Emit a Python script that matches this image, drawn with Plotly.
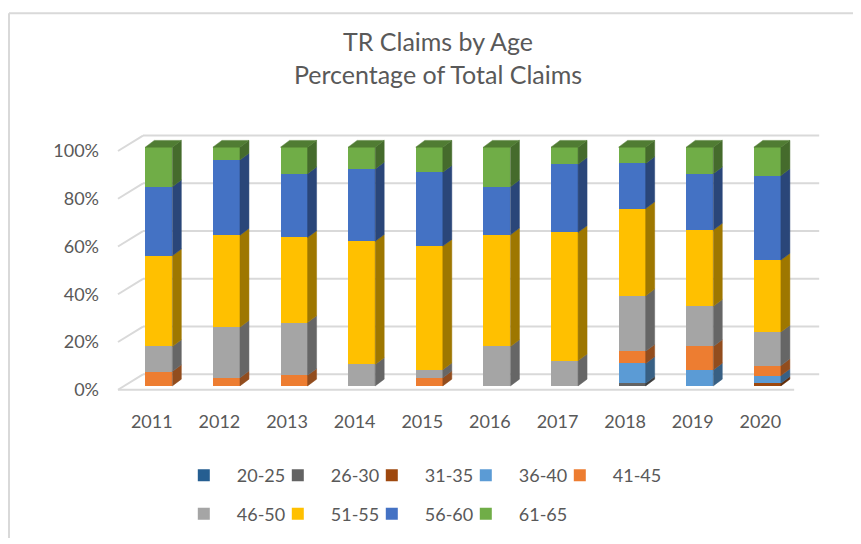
import plotly.graph_objects as go
import numpy as np

# ---------------- data ----------------
years = ["2011", "2012", "2013", "2014", "2015", "2016", "2017", "2018", "2019", "2020"]
age_groups = ["20-25", "26-30", "31-35", "36-40", "41-45", "46-50", "51-55", "56-60", "61-65"]

age_20_25 = [0, 0, 0, 0, 0, 0, 0, 0, 0, 0]
age_26_30 = [0, 0, 0, 0, 0, 0, 0, 1.1, 0, 0]
age_31_35 = [0, 0, 0, 0, 0, 0, 0, 0, 0, 1.1]
age_36_40 = [0, 0, 0, 0, 0, 0, 0, 8.3, 6.7, 3.2]
age_41_45 = [6.0, 3.4, 4.4, 0, 3.4, 0, 0, 5.1, 9.8, 4.2]
age_46_50 = [10.5, 21.2, 22.1, 9.0, 3.4, 16.5, 10.5, 23.2, 16.8, 14.1]
age_51_55 = [38.0, 38.5, 35.6, 51.5, 51.8, 46.7, 53.8, 36.5, 31.9, 30.1]
age_56_60 = [28.9, 31.5, 26.7, 30.3, 31.0, 20.1, 28.5, 18.9, 23.6, 35.4]
age_61_65 = [16.6, 5.4, 11.1, 9.1, 10.5, 16.6, 7.2, 6.8, 11.1, 11.9]

series = [age_20_25, age_26_30, age_31_35, age_36_40, age_41_45,
          age_46_50, age_51_55, age_56_60, age_61_65]

colors = ["#255E91", "#636363", "#9E480E", "#5B9BD5", "#ED7D31",
          "#A5A5A5", "#FFC000", "#4472C4", "#70AD47"]

y_ticks = [0, 20, 40, 60, 80, 100]
y_tick_text = ["0%", "20%", "40%", "60%", "80%", "100%"]

# ---------------- styling constants ----------------
FONT = "Lato, 'Open Sans', sans-serif"
TXT = "#595959"
GRID = "#D9D9D9"
BAR_SHIFT = 0.104   # bar front set back from the floor front
BAR_W = 0.40
DX, DY = 0.133, 2.82          # bar depth projection
WALL_DX, WALL_DY = 0.37, 4.84  # back wall offset from bar plane
FLOOR_DY = -1.61               # floor front offset from bar plane

# the page body adds a margin, so the figure is sized to fit the window
FIG_W, FIG_H = 853, 536
PLOT_L, PLOT_R = 92, 822
PLOT_TOP, PLOT_BOT = 117, 412
PLOT_W = PLOT_R - PLOT_L
PLOT_H = PLOT_BOT - PLOT_TOP


def py(px):
    """figure pixel row -> paper y"""
    return (PLOT_BOT - px) / PLOT_H


def pxx(px):
    """figure pixel column -> paper x"""
    return (px - PLOT_L) / PLOT_W


def shade(hex_color, f):
    h = hex_color.lstrip("#")
    r, g, b = (int(h[i:i + 2], 16) for i in (0, 2, 4))
    return "rgb(%d,%d,%d)" % (r * f, g * f, b * f)


vals = np.array(series, dtype=float)
pct = vals / vals.sum(axis=0) * 100
cum_top = np.cumsum(pct, axis=0)
cum_bot = cum_top - pct
idx = list(range(len(years)))
bx = [i + BAR_SHIFT for i in idx]

fig = go.Figure()

# front faces
for k, name in enumerate(age_groups):
    lg = "legend" if k < 5 else "legend2"
    fig.add_trace(go.Bar(
        x=bx, y=series[k], width=BAR_W, name=name,
        marker=dict(color=colors[k], line=dict(width=0)),
        legend=lg, hoverinfo="name+y",
    ))
    if k in (4, 8):
        # invisible spacer entry so the last legend label is not clipped
        fig.add_trace(go.Scatter(x=[None], y=[None], name=" ", mode="markers", legend=lg,
                                 marker=dict(color="rgba(0,0,0,0)", size=1), hoverinfo="skip"))

# side faces
for k in range(len(age_groups)):
    xs, ys = [], []
    for i in idx:
        if pct[k, i] <= 0:
            continue
        xr = bx[i] + BAR_W / 2
        y0, y1 = cum_bot[k, i], cum_top[k, i]
        xs += [xr, xr, xr + DX, xr + DX, xr, None]
        ys += [y0, y1, y1 + DY, y0 + DY, y0, None]
    if xs:
        fig.add_trace(go.Scatter(
            x=xs, y=ys, mode="lines", fill="toself",
            fillcolor=shade(colors[k], 0.62), line=dict(width=0.5, color=shade(colors[k], 0.62)),
            showlegend=False, hoverinfo="skip"))

# top faces
top_groups = {}
for i in idx:
    k_top = max(k for k in range(len(age_groups)) if pct[k, i] > 0)
    xl, xr = bx[i] - BAR_W / 2, bx[i] + BAR_W / 2
    yt = cum_top[k_top, i]
    xs, ys = top_groups.setdefault(k_top, ([], []))
    xs += [xl, xr, xr + DX, xl + DX, xl, None]
    ys += [yt, yt, yt + DY, yt + DY, yt, None]
for k_top, (xs, ys) in top_groups.items():
    fig.add_trace(go.Scatter(
        x=xs, y=ys, mode="lines", fill="toself",
        fillcolor=shade(colors[k_top], 0.72), line=dict(width=0.5, color=shade(colors[k_top], 0.72)),
        showlegend=False, hoverinfo="skip"))

# back wall gridlines + left wall diagonals + floor front edge
n = len(years)
x_front_l, x_front_r = -0.5, n - 0.5
shapes = []
for v in y_ticks:
    shapes.append(dict(type="line", xref="x", yref="y", layer="below",
                       x0=x_front_l + WALL_DX, x1=x_front_r + WALL_DX,
                       y0=v + WALL_DY, y1=v + WALL_DY, line=dict(color=GRID, width=2)))
    shapes.append(dict(type="line", xref="x", yref="y", layer="below",
                       x0=x_front_l, x1=x_front_l + WALL_DX,
                       y0=v + FLOOR_DY, y1=v + WALL_DY, line=dict(color=GRID, width=2)))
shapes.append(dict(type="line", xref="x", yref="y", layer="below",
                   x0=x_front_l, x1=x_front_r, y0=FLOOR_DY, y1=FLOOR_DY,
                   line=dict(color=GRID, width=2)))
# chart border (top & left edges visible)
shapes.append(dict(type="line", xref="paper", yref="paper", x0=pxx(1), x1=pxx(FIG_W + 10),
                   y0=py(1), y1=py(1), line=dict(color=GRID, width=2)))
shapes.append(dict(type="line", xref="paper", yref="paper", x0=pxx(1), x1=pxx(1),
                   y0=py(1), y1=py(FIG_H + 10), line=dict(color=GRID, width=2)))

legend_common = dict(orientation="h", xanchor="left", yanchor="middle", traceorder="normal",
                     font=dict(family=FONT, size=18, color=TXT),
                     itemwidth=56, entrywidth=23, entrywidthmode="pixels",
                     bgcolor="rgba(0,0,0,0)", itemclick=False, itemdoubleclick=False)

fig.update_layout(
    width=FIG_W, height=FIG_H,
    margin=dict(l=PLOT_L, r=FIG_W - PLOT_R, t=PLOT_TOP, b=FIG_H - PLOT_BOT),
    paper_bgcolor="white", plot_bgcolor="white",
    barmode="stack", barnorm="percent", bargap=0,
    title=dict(text="TR Claims by Age<br>Percentage of Total Claims",
               x=430 / FIG_W, xanchor="center", y=1 - 43 / FIG_H, yanchor="middle",
               font=dict(family=FONT, size=25, color=TXT)),
    xaxis=dict(range=[-0.766, 10.03], tickvals=idx, ticktext=years,
               showgrid=False, zeroline=False, showline=False, ticks="",
               tickfont=dict(family=FONT, size=18, color=TXT), fixedrange=True),
    yaxis=dict(range=[-9.68, 109.27], tickvals=[v + FLOOR_DY for v in y_ticks], ticktext=y_tick_text,
               showgrid=False, zeroline=False, showline=False, ticks="",
               tickfont=dict(family=FONT, size=18, color=TXT), fixedrange=True),
    legend=dict(x=pxx(162.8), y=py(481), **legend_common),
    legend2=dict(x=pxx(162.8), y=py(521), **legend_common),
    shapes=shapes,
    showlegend=True,
)

fig.write_html("out.html")
